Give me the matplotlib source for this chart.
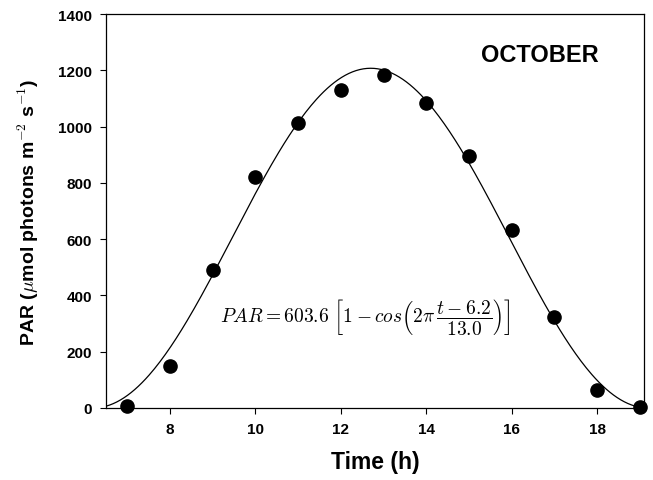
import numpy as np
import matplotlib.pyplot as plt

plt.rcParams['font.family'] = ['Liberation Sans', 'DejaVu Sans']
plt.rcParams['mathtext.fontset'] = 'cm'

hours = [7, 8, 9, 10, 11, 12, 13, 14, 15, 16, 17, 18, 19]
par = [8, 150, 490, 822, 1014, 1131, 1183, 1084, 897, 633, 322, 65, 5]

# fitted model parameters (shown in the equation on the chart)
amp = 603.6
t_start = 6.2
day_len = 13.0

t_fit = np.linspace(6.5, 19.1, 300)
par_fit = amp * (1 - np.cos(2 * np.pi * (t_fit - t_start) / day_len))

fig = plt.figure(figsize=(6.53, 4.81), dpi=100)
ax = fig.add_axes([0.1623, 0.1497, 0.8239, 0.8191])

ax.plot(t_fit, par_fit, color='black', lw=0.9, zorder=2)
ax.plot(hours, par, 'o', color='black', ms=9.5, zorder=3, clip_on=False)

ax.set_xlim(6.5, 19.1)
ax.set_ylim(0, 1400)
ax.set_xticks([8, 10, 12, 14, 16, 18])
ax.set_yticks(range(0, 1401, 200))
ax.tick_params(direction='out', length=4, width=0.8, labelsize=11, pad=6)
for lab in ax.get_xticklabels() + ax.get_yticklabels():
    lab.set_fontweight('bold')
for sp in ax.spines.values():
    sp.set_linewidth(0.9)

ax.set_xlabel('Time (h)', fontsize=16.5, fontweight='bold', labelpad=10)
ax.set_ylabel(r'PAR ($\mu$mol photons m$^{\mathbf{-2}}$ s$^{\mathbf{-1}}$)',
              fontsize=14, fontweight='bold')
ax.yaxis.set_label_coords(-0.12, 0.5)

ax.text(0.807, 0.898, 'OCTOBER', transform=ax.transAxes, fontsize=17,
        fontweight='bold', ha='center', va='center')

ax.text(0.481, 0.234,
        r'$PAR = 603.6\ \left[1 - cos\left(2\pi\,\dfrac{t-6.2}{13.0}\right)\right]$',
        transform=ax.transAxes, fontsize=14, ha='center', va='center')

fig.savefig('out.png', dpi=100)
